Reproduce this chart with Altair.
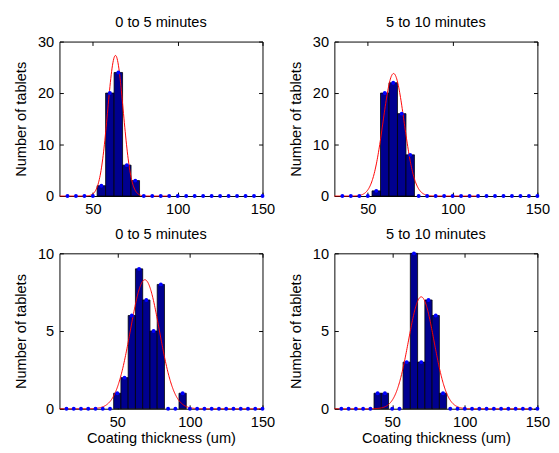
import altair as alt
import pandas as pd

# ---------------- data ----------------
centers_top = [35, 40, 45, 50, 55, 60, 65, 70, 75, 80, 85, 90, 95, 100,
               105, 110, 115, 120, 125, 130, 135, 140, 145, 150]
counts_tl = [0, 0, 0, 0, 2, 20, 24, 6, 3, 0, 0, 0, 0, 0,
             0, 0, 0, 0, 0, 0, 0, 0, 0, 0]
counts_tr = [0, 0, 0, 0, 1, 20, 22, 16, 8, 0, 0, 0, 0, 0,
             0, 0, 0, 0, 0, 0, 0, 0, 0, 0]

centers_bot = [15, 20, 25, 30, 35, 40, 45, 50, 55, 60, 65, 70, 75, 80,
               85, 90, 95, 100, 105, 110, 115, 120, 125, 130, 135, 140, 145, 150]
counts_bl = [0, 0, 0, 0, 0, 0, 0, 1, 2, 6, 9, 7, 5, 8,
             0, 0, 1, 0, 0, 0, 0, 0, 0, 0, 0, 0, 0, 0]
counts_br = [0, 0, 0, 0, 0, 1, 1, 0, 0, 3, 10, 3, 7, 6,
             1, 0, 0, 0, 0, 0, 0, 0, 0, 0, 0, 0, 0, 0]

panel_titles = ["0 to 5 minutes", "5 to 10 minutes", "0 to 5 minutes", "5 to 10 minutes"]
bin_width = 5

# fitted normal curves (red): centre, spread, peak height, drawn x-range
fit_mu = [63.3, 65.2, 69.0, 70.0]
fit_sigma = [4.6, 6.2, 10.0, 8.8]
fit_amp = [27.3, 23.8, 8.3, 7.2]
fit_start = [30.3, 30.3, 10.2, 10.2]
fit_stop = [95.0, 115.0, 150.0, 147.0]

x_domains = [[30.3, 150], [30.3, 150], [10.2, 150], [10.2, 150]]
y_domains = [[0, 30], [0, 30], [0, 10], [0, 10]]
x_ticks = [50, 100, 150]
y_ticks = [[0, 10, 20, 30], [0, 10, 20, 30], [0, 5, 10], [0, 5, 10]]

NAVY = "#00008F"
FONT = "Liberation Sans"
FS = 15
W = 209
HEIGHTS = [159, 159, 160, 160]
TICK = 4


def panel(i, centers, counts, xtitle):
    df = pd.DataFrame({"c": centers, "n": counts})
    df["lo"] = df["c"] - bin_width / 2
    df["hi"] = df["c"] + bin_width / 2
    xs = alt.Scale(domain=x_domains[i], nice=False, zero=False)
    ys = alt.Scale(domain=y_domains[i], nice=False)

    common = dict(labelFont=FONT, titleFont=FONT, labelFontSize=FS, titleFontSize=FS,
                  labelColor="black", titleColor="black", titleFontWeight="normal",
                  grid=False, domain=False)
    label_x = alt.Axis(values=x_ticks, ticks=False, labelFlush=False, labelPadding=6,
                       orient="bottom", title=xtitle if xtitle else None,
                       titlePadding=2, **common)
    label_y = alt.Axis(values=y_ticks[i], ticks=False, labelPadding=6, orient="left",
                       minExtent=24, maxExtent=24, title="Number of tablets",
                       titlePadding=8, **common)

    def tick_axis(vals, orient):
        return alt.Axis(values=vals, ticks=True, tickSize=TICK, offset=-TICK,
                        labels=False, domain=False, grid=False, orient=orient,
                        title=None, tickColor="black", tickWidth=1,
                        minExtent=0, maxExtent=0)

    bars = alt.Chart(df).transform_filter("datum.n > 0").mark_bar(
        color=NAVY, stroke="black", strokeWidth=0.8
    ).encode(
        x=alt.X("lo:Q", scale=xs, axis=label_x),
        x2="hi:Q",
        y=alt.Y("n:Q", scale=ys, axis=label_y),
        y2=alt.datum(0),
    )

    curve = alt.Chart(
        alt.sequence(fit_start[i], fit_stop[i] + 0.01, 0.25, as_="x")
    ).transform_calculate(
        y=f"{fit_amp[i]} * exp(-0.5 * pow((datum.x - {fit_mu[i]}) / {fit_sigma[i]}, 2))"
    ).mark_line(color="#FF0000", strokeWidth=1).encode(
        x=alt.X("x:Q", scale=xs, axis=tick_axis(x_ticks, "top")),
        y=alt.Y("y:Q", scale=ys, axis=tick_axis(y_ticks[i], "right")),
    )

    dots = alt.Chart(df).mark_point(
        shape="circle", filled=True, size=16, color="#0000FF", opacity=1
    ).encode(
        x=alt.X("c:Q", scale=xs, axis=tick_axis(x_ticks, "bottom")),
        y=alt.Y("n:Q", scale=ys, axis=tick_axis(y_ticks[i], "left")),
    )

    return alt.layer(bars, curve, dots).resolve_axis(
        x="independent", y="independent"
    ).properties(
        width=W, height=HEIGHTS[i],
        title=alt.Title(panel_titles[i], fontSize=FS, fontWeight="normal",
                        font=FONT, offset=5, color="black"),
    )


p1 = panel(0, centers_top, counts_tl, None)
p2 = panel(1, centers_top, counts_tr, None)
p3 = panel(2, centers_bot, counts_bl, "Coating thickness (um)")
p4 = panel(3, centers_bot, counts_br, "Coating thickness (um)")

chart = alt.vconcat(
    alt.hconcat(p1, p2, spacing=12),
    alt.hconcat(p3, p4, spacing=12),
    spacing=9,
).properties(
    padding={"left": 5, "top": 0, "right": 0, "bottom": 0}
).configure(
    background="white"
).configure_view(
    stroke="black", strokeWidth=1
)

chart.save("out.html", embed_options={"renderer": "svg", "actions": False})
